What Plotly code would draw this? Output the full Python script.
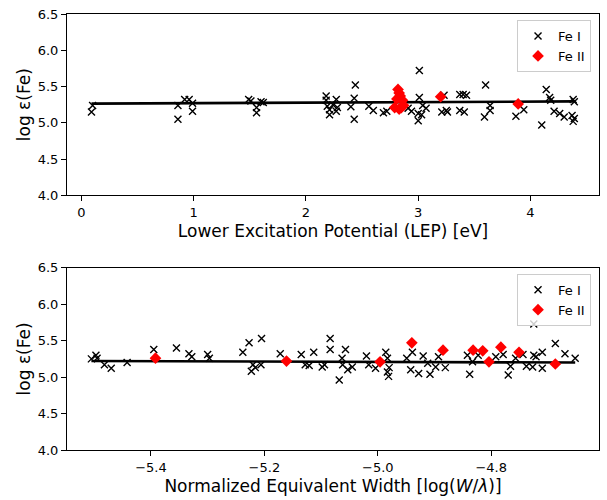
import plotly.graph_objects as go

# ---------------- data ----------------
# Top panel: abundance vs lower excitation potential
lep_fe1 = [0.10, 0.09, 0.86, 0.86, 0.92, 0.96, 0.99, 0.99, 1.49, 1.51, 1.56, 1.56, 1.60, 1.62,
           2.18, 2.18, 2.19, 2.21, 2.21, 2.24, 2.27, 2.28, 2.27, 2.40, 2.43, 2.44, 2.43, 2.56,
           2.60, 2.69, 2.72, 2.91, 2.94, 3.00, 3.00, 3.01, 3.01, 3.03, 3.04, 3.07, 3.21, 3.23,
           3.25, 3.26, 3.37, 3.40, 3.43, 3.37, 3.41, 3.60, 3.64, 3.64, 3.59, 3.87, 3.94, 4.10,
           4.14, 4.17, 4.18, 4.21, 4.26, 4.30, 4.38, 4.39, 4.37, 4.39, 4.38]
abund_lep_fe1 = [5.24, 5.15, 5.24, 5.05, 5.32, 5.32, 5.27, 5.16, 5.32, 5.30, 5.21, 5.14, 5.29, 5.28,
                 5.37, 5.31, 5.23, 5.18, 5.11, 5.25, 5.32, 5.21, 5.16, 5.22, 5.34, 5.52, 5.05, 5.23,
                 5.17, 5.14, 5.16, 5.20, 5.16, 5.13, 5.03, 5.35, 5.72, 5.11, 5.24, 5.20, 5.15, 5.38,
                 5.17, 5.15, 5.39, 5.39, 5.38, 5.17, 5.15, 5.52, 5.24, 5.17, 5.08, 5.09, 5.18, 4.97,
                 5.46, 5.35, 5.31, 5.16, 5.13, 5.08, 5.32, 5.29, 5.10, 5.06, 5.02]
lep_fe2 = [2.82, 2.83, 2.84, 2.81, 2.86, 2.79, 2.85, 2.83, 2.87, 3.20, 3.89]
abund_lep_fe2 = [5.46, 5.41, 5.37, 5.33, 5.31, 5.21, 5.21, 5.19, 5.24, 5.36, 5.26]
fit_lep_x = [0.09, 4.39]
fit_lep_y = [5.264, 5.295]

# Bottom panel: abundance vs reduced equivalent width
rew_fe1 = [-5.505, -5.497, -5.495, -5.482, -5.470, -5.442, -5.395, -5.355, -5.333, -5.328, -5.300,
           -5.297, -5.238, -5.227, -5.205, -5.220, -5.223, -5.216, -5.206, -5.172, -5.135, -5.128,
           -5.121, -5.113, -5.098, -5.094, -5.084, -5.084, -5.068, -5.063, -5.057, -5.062, -5.053,
           -5.045, -5.020, -5.016, -5.004, -4.986, -4.983, -4.980, -4.983, -4.981, -4.949, -4.939,
           -4.942, -4.928, -4.920, -4.912, -4.908, -4.898, -4.893, -4.881, -4.842, -4.838, -4.833,
           -4.823, -4.792, -4.779, -4.770, -4.766, -4.757, -4.744, -4.738, -4.727, -4.725, -4.721,
           -4.710, -4.710, -4.725, -4.687, -4.670, -4.652]
abund_rew_fe1 = [5.25, 5.30, 5.26, 5.17, 5.12, 5.20, 5.38, 5.40, 5.32, 5.28, 5.31,
                 5.26, 5.34, 5.47, 5.53, 5.17, 5.08, 5.13, 5.17, 5.32, 5.31, 5.17,
                 5.16, 5.34, 5.14, 5.17, 5.53, 5.38, 4.96, 5.26, 5.38, 5.17, 5.10,
                 5.14, 5.29, 5.17, 5.12, 5.34, 5.26, 5.13, 5.07, 5.01, 5.26, 5.34,
                 5.10, 5.05, 5.29, 5.19, 5.04, 5.14, 5.28, 5.13, 5.30, 5.04, 5.21,
                 5.30, 5.28, 5.31, 5.03, 5.15, 5.26, 5.31, 5.15, 5.14, 5.30, 5.28,
                 5.34, 5.12, 5.73, 5.46, 5.32, 5.26]
rew_fe2 = [-5.392, -5.161, -4.996, -4.940, -4.885, -4.832, -4.815, -4.804, -4.783, -4.751, -4.687]
abund_rew_fe2 = [5.26, 5.22, 5.21, 5.47, 5.37, 5.37, 5.36, 5.21, 5.41, 5.34, 5.18]
fit_rew_x = [-5.505, -4.652]
fit_rew_y = [5.22, 5.20]

y_ticks = [4.0, 4.5, 5.0, 5.5, 6.0, 6.5]
lep_ticks = [0, 1, 2, 3, 4]
rew_ticks = [-5.4, -5.2, -5.0, -4.8]

# ---------------- figure ----------------
FONT = "DejaVu Sans"
fe1_marker = dict(symbol="x-thin", size=7, color="black", line=dict(color="black", width=1.4))
fe2_marker = dict(symbol="diamond", size=9, color="red", line=dict(width=0))

fig = go.Figure()

# top panel
fig.add_trace(go.Scatter(x=fit_lep_x, y=fit_lep_y, mode="lines", line=dict(color="black", width=2.6),
                         showlegend=False, xaxis="x", yaxis="y"))
fig.add_trace(go.Scatter(x=lep_fe1, y=abund_lep_fe1, mode="markers", marker=fe1_marker,
                         name="Fe I", legend="legend", xaxis="x", yaxis="y"))
fig.add_trace(go.Scatter(x=lep_fe2, y=abund_lep_fe2, mode="markers", marker=fe2_marker,
                         name="Fe II", legend="legend", xaxis="x", yaxis="y"))

# bottom panel
fig.add_trace(go.Scatter(x=fit_rew_x, y=fit_rew_y, mode="lines", line=dict(color="black", width=2.6),
                         showlegend=False, xaxis="x2", yaxis="y2"))
fig.add_trace(go.Scatter(x=rew_fe1, y=abund_rew_fe1, mode="markers", marker=fe1_marker,
                         name="Fe I", legend="legend2", xaxis="x2", yaxis="y2"))
fig.add_trace(go.Scatter(x=rew_fe2, y=abund_rew_fe2, mode="markers", marker=fe2_marker,
                         name="Fe II", legend="legend2", xaxis="x2", yaxis="y2"))

axis_common = dict(showline=True, linecolor="black", linewidth=1.1, mirror=True,
                   ticks="outside", ticklen=5, tickwidth=1.1, tickcolor="black",
                   showgrid=False, zeroline=False,
                   tickfont=dict(family=FONT, size=13, color="black"))

legend_common = dict(xanchor="right", yanchor="top",
                     bgcolor="rgba(255,255,255,0.8)", bordercolor="#cccccc", borderwidth=1,
                     itemwidth=30, tracegroupgap=0,
                     font=dict(family=FONT, size=13, color="black"))

fig.update_layout(
    width=607, height=500,
    margin=dict(l=67, r=7, t=12, b=43),
    paper_bgcolor="white", plot_bgcolor="white",
    font=dict(family=FONT, color="black"),
    xaxis=dict(domain=[0, 1], anchor="y", range=[-0.128, 4.61], tickvals=lep_ticks,
               title=dict(text="Lower Excitation Potential (LEP) [eV]", font=dict(size=17), standoff=6),
               **axis_common),
    yaxis=dict(domain=[0.584, 1.0], anchor="x", range=[4.0, 6.5], tickvals=y_ticks, tickformat=".1f",
               title=dict(text="log ε(Fe)", font=dict(size=17), standoff=2),
               **axis_common),
    xaxis2=dict(domain=[0, 1], anchor="y2", range=[-5.548, -4.61], tickvals=rew_ticks, tickformat=".1f",
                title=dict(text="Normalized Equivalent Width [log(<i>W</i>/<i>λ</i>)]", font=dict(size=17), standoff=6),
                **axis_common),
    yaxis2=dict(domain=[0.0, 0.418], anchor="x2", range=[4.0, 6.5], tickvals=y_ticks, tickformat=".1f",
                title=dict(text="log ε(Fe)", font=dict(size=17), standoff=2),
                **axis_common),
    legend=dict(x=0.985, y=0.986, **legend_common),
    legend2=dict(x=0.985, y=0.404, **legend_common),
)

fig.write_html("out.html")
